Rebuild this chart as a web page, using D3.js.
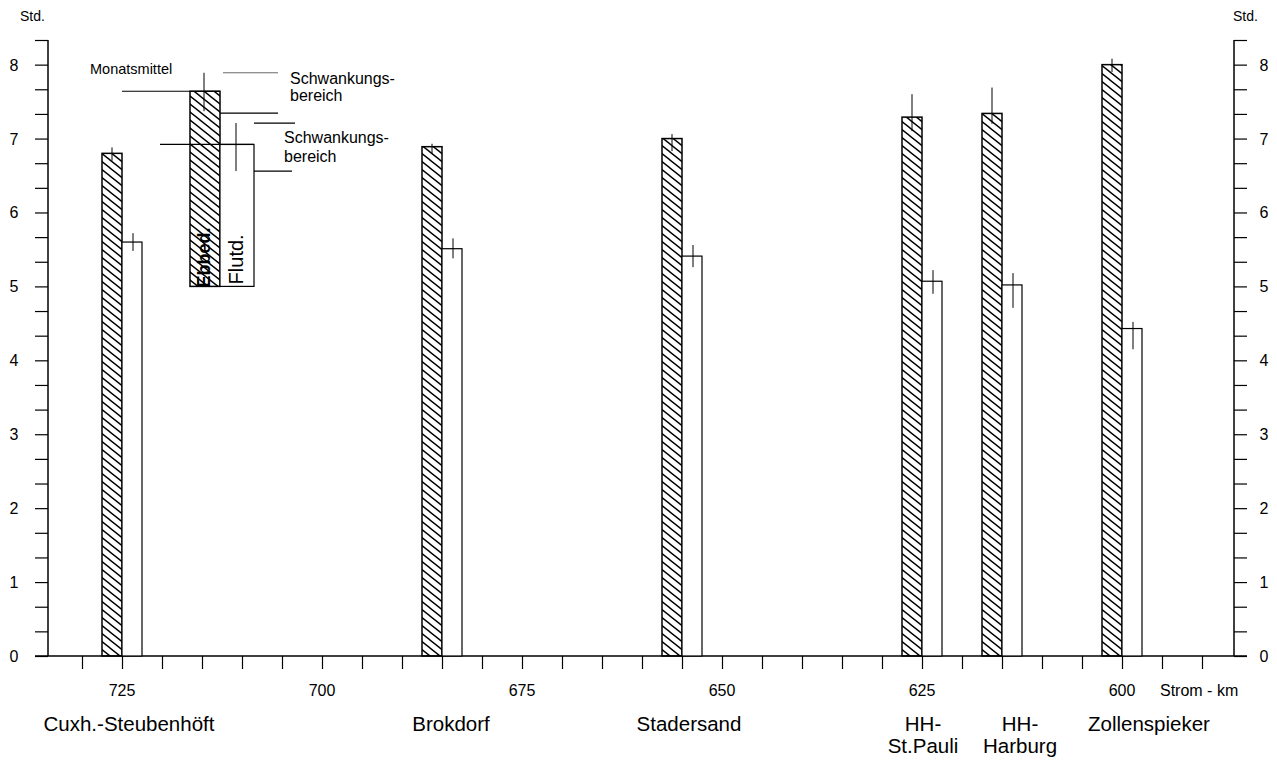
<!DOCTYPE html>
<html>
<head>
<meta charset="utf-8">
<script src="https://cdn.jsdelivr.net/npm/d3@7"></script>
<style>
  body { margin: 0; background: #fff; }
  text { font-family: "Liberation Sans", Arial, sans-serif; fill: #000; }
</style>
</head>
<body>
<script>
// Ebbe-/Flutdauer an den Elbpegeln (Monatsmittel und Schwankungsbereich)
const stations = ['Cuxh.-Steubenhöft', 'Brokdorf', 'Stadersand', 'HH-|St.Pauli', 'HH-|Harburg', 'Zollenspieker'];
const stationKm = [725, 685, 655, 625, 615, 600];
const ebbeMean = [6.8, 6.89, 7.0, 7.29, 7.34, 8.0];
const ebbeMax = [6.88, 6.93, 7.06, 7.6, 7.69, 8.08];
const ebbeMin = [6.7, 6.79, 6.83, 7.1, 7.2, 7.9];
const flutMean = [5.6, 5.51, 5.41, 5.07, 5.02, 4.43];
const flutMax = [5.72, 5.65, 5.56, 5.22, 5.18, 4.52];
const flutMin = [5.48, 5.38, 5.26, 4.9, 4.71, 4.15];
const kmTicks = [725, 700, 675, 650, 625, 600];
const yTicks = [0, 1, 2, 3, 4, 5, 6, 7, 8];
// Legende
const legendMean = [7.64, 6.92];
const legendMax = [7.89, 7.21];
const legendMin = [7.37, 6.56];
const legendBase = 5;

const svgWidth = 1277;
const svgHeight = 760;

const svg = d3.select('body')
              .append('svg')
              .attr('width', svgWidth)
              .attr('height', svgHeight);

const x = d3.scaleLinear().domain([734.25, 586]).range([48, 1234]);
const y = d3.scaleLinear().domain([0, 25 / 3]).range([656, 40]);
const barW = 20;

// hatch pattern for Ebbe bars
const pat = svg.append('defs').append('pattern')
               .attr('id', 'hatch')
               .attr('patternUnits', 'userSpaceOnUse')
               .attr('width', 10).attr('height', 8);
pat.append('path')
   .attr('d', 'M0,0L10,8M-1,7.2L1,8.8M9,-0.8L11,0.8')
   .attr('stroke', '#000').attr('stroke-width', 1.4);

// axes
const minor = d3.range(0, 26).map(i => i / 3);

svg.append('g')
   .attr('transform', `translate(48,0)`)
   .call(d3.axisLeft(y).tickValues(minor).tickSize(13).tickFormat(''))
   .call(g => g.select('.domain').remove())
   .call(g => g.selectAll('line').attr('stroke-width', 1.2));
svg.append('g')
   .attr('transform', `translate(1234,0)`)
   .call(d3.axisRight(y).tickValues(minor).tickSize(13).tickFormat(''))
   .call(g => g.select('.domain').remove())
   .call(g => g.selectAll('line').attr('stroke-width', 1.2));

svg.append('line').attr('x1', 48).attr('x2', 48).attr('y1', y(25 / 3)).attr('y2', y(0))
   .attr('stroke', '#000').attr('stroke-width', 1.5);
svg.append('line').attr('x1', 1234).attr('x2', 1234).attr('y1', y(25 / 3)).attr('y2', y(0))
   .attr('stroke', '#000').attr('stroke-width', 1.5);

svg.selectAll('.ylab-l')
   .data(yTicks)
   .enter().append('text')
   .attr('x', 14).attr('y', d => y(d) + 6)
   .attr('text-anchor', 'middle')
   .style('font-size', '16px')
   .text(d => d);
svg.selectAll('.ylab-r')
   .data(yTicks)
   .enter().append('text')
   .attr('x', 1264).attr('y', d => y(d) + 6)
   .attr('text-anchor', 'middle')
   .style('font-size', '16px')
   .text(d => d);

svg.append('text').attr('x', 20).attr('y', 21).style('font-size', '14px').text('Std.');
svg.append('text').attr('x', 1233).attr('y', 21).style('font-size', '14px').text('Std.');

// x axis
svg.append('g')
   .attr('transform', `translate(0,${y(0)})`)
   .call(d3.axisBottom(x).tickValues(d3.range(590, 735, 5)).tickSize(13).tickFormat(''))
   .call(g => g.select('.domain').remove())
   .call(g => g.selectAll('line').attr('stroke-width', 1.2));
svg.append('line').attr('x1', 35).attr('x2', 1247).attr('y1', y(0)).attr('y2', y(0))
   .attr('stroke', '#000').attr('stroke-width', 1.5);

svg.selectAll('.xlab')
   .data(kmTicks)
   .enter().append('text')
   .attr('x', d => x(d)).attr('y', 696)
   .attr('text-anchor', 'middle')
   .style('font-size', '16px')
   .text(d => d);
svg.append('text').attr('x', 1160).attr('y', 696).style('font-size', '16px').text('Strom - km');

const labelShift = [7, 9, 7, 1, 18, 27];
stations.forEach((s, i) => {
  const lines = s.split('|');
  const t = svg.append('text')
               .attr('x', x(stationKm[i]) + labelShift[i])
               .attr('y', 731)
               .attr('text-anchor', 'middle')
               .style('font-size', '20.5px');
  lines.forEach((l, j) => {
    t.append('tspan').attr('x', x(stationKm[i]) + labelShift[i]).attr('dy', j ? 22 : 0).text(l);
  });
});

// bars
const dataset = stationKm.map((km, i) => ({
  km, ebbe: ebbeMean[i], eMax: ebbeMax[i], eMin: ebbeMin[i],
  flut: flutMean[i], fMax: flutMax[i], fMin: flutMin[i]
}));

const g = svg.append('g');
g.selectAll('.ebbe')
 .data(dataset)
 .enter().append('rect')
 .attr('x', d => x(d.km) - barW)
 .attr('y', d => y(d.ebbe))
 .attr('width', barW)
 .attr('height', d => y(0) - y(d.ebbe))
 .attr('fill', 'url(#hatch)')
 .attr('stroke', '#000').attr('stroke-width', 1.5);
g.selectAll('.flut')
 .data(dataset)
 .enter().append('rect')
 .attr('x', d => x(d.km))
 .attr('y', d => y(d.flut))
 .attr('width', barW)
 .attr('height', d => y(0) - y(d.flut))
 .attr('fill', '#fff')
 .attr('stroke', '#000').attr('stroke-width', 1.2);
g.selectAll('.errE')
 .data(dataset)
 .enter().append('line')
 .attr('x1', d => x(d.km) - barW / 2).attr('x2', d => x(d.km) - barW / 2)
 .attr('y1', d => y(d.eMax)).attr('y2', d => y(d.eMin))
 .attr('stroke', '#000').attr('stroke-width', 1);
g.selectAll('.errF')
 .data(dataset)
 .enter().append('line')
 .attr('x1', d => x(d.km) + barW / 2 + 1).attr('x2', d => x(d.km) + barW / 2 + 1)
 .attr('y1', d => y(d.fMax)).attr('y2', d => y(d.fMin))
 .attr('stroke', '#000').attr('stroke-width', 1);

// legend
const lg = svg.append('g');
const legX = [190, 220];
const legW = [30, 34];
lg.append('rect').attr('x', legX[0]).attr('y', y(legendMean[0]))
  .attr('width', legW[0]).attr('height', y(legendBase) - y(legendMean[0]))
  .attr('fill', 'url(#hatch)').attr('stroke', '#000').attr('stroke-width', 1.5);
lg.append('rect').attr('x', legX[1]).attr('y', y(legendMean[1]))
  .attr('width', legW[1]).attr('height', y(legendBase) - y(legendMean[1]))
  .attr('fill', '#fff').attr('stroke', '#000').attr('stroke-width', 1.2);
[0, 1].forEach(i => {
  lg.append('line').attr('x1', legX[i] + 14 + i * 2).attr('x2', legX[i] + 14 + i * 2)
    .attr('y1', y(legendMax[i])).attr('y2', y(legendMin[i]))
    .attr('stroke', '#000').attr('stroke-width', 1);
});
// mean lines
lg.append('line').attr('x1', 122).attr('x2', 220).attr('y1', y(legendMean[0])).attr('y2', y(legendMean[0]))
  .attr('stroke', '#000').attr('stroke-width', 1.2);
lg.append('line').attr('x1', 160).attr('x2', 254).attr('y1', y(legendMean[1])).attr('y2', y(legendMean[1]))
  .attr('stroke', '#000').attr('stroke-width', 1.2);
// range lines
lg.append('line').attr('x1', 223).attr('x2', 278).attr('y1', y(legendMax[0])).attr('y2', y(legendMax[0]))
  .attr('stroke', '#444').attr('stroke-width', 0.8);
lg.append('line').attr('x1', 220).attr('x2', 278).attr('y1', y(legendMin[0]) + 2).attr('y2', y(legendMin[0]) + 2)
  .attr('stroke', '#000').attr('stroke-width', 1.2);
lg.append('line').attr('x1', 254).attr('x2', 295).attr('y1', y(legendMax[1])).attr('y2', y(legendMax[1]))
  .attr('stroke', '#000').attr('stroke-width', 1.2);
lg.append('line').attr('x1', 254).attr('x2', 292).attr('y1', y(legendMin[1])).attr('y2', y(legendMin[1]))
  .attr('stroke', '#000').attr('stroke-width', 1.2);

lg.append('text').attr('x', 90).attr('y', 74).style('font-size', '14.5px').text('Monatsmittel');
lg.append('text').attr('x', 290).attr('y', 84).style('font-size', '16px').text('Schwankungs-');
lg.append('text').attr('x', 290).attr('y', 101).style('font-size', '16px').text('bereich');
lg.append('text').attr('x', 284).attr('y', 143).style('font-size', '16px').text('Schwankungs-');
lg.append('text').attr('x', 284).attr('y', 162).style('font-size', '16px').text('bereich');

lg.append('text')
  .attr('transform', `translate(210,${y(legendBase) + 1}) rotate(-90)`)
  .style('font-size', '18px').style('font-weight', 'bold')
  .text('Ebbed.');
lg.append('text')
  .attr('transform', `translate(243,${y(legendBase) - 2}) rotate(-90)`)
  .style('font-size', '20px')
  .text('Flutd.');
</script>
</body>
</html>
